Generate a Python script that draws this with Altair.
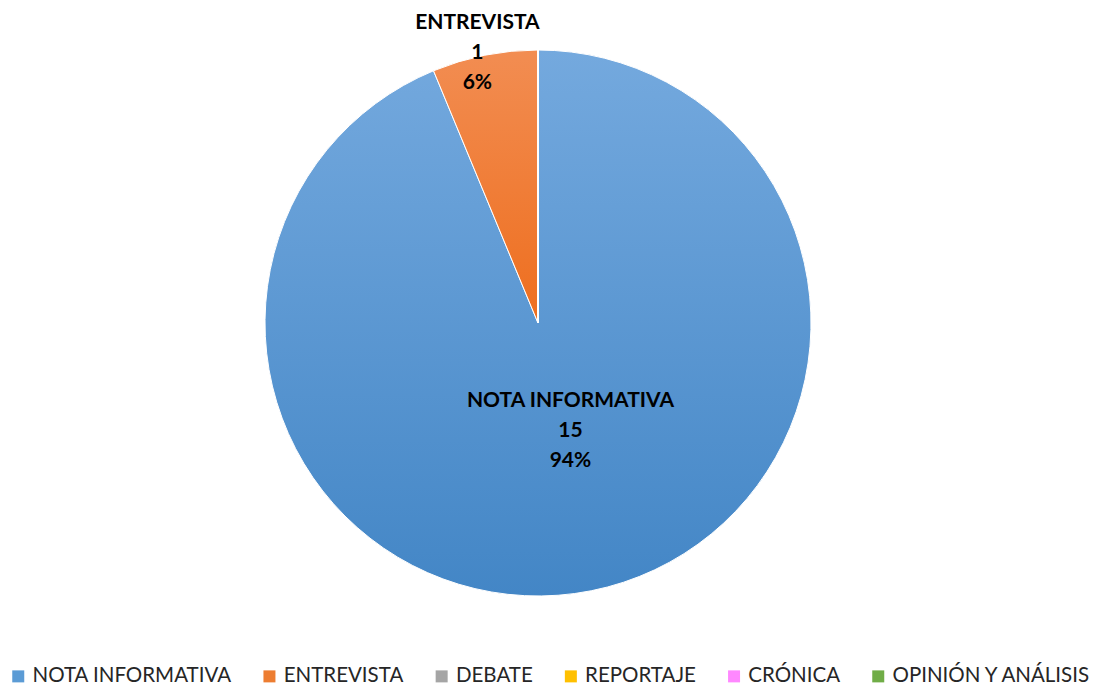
import altair as alt
import pandas as pd

categorias = ["NOTA INFORMATIVA", "ENTREVISTA", "DEBATE", "REPORTAJE", "CRÓNICA", "OPINIÓN Y ANÁLISIS"]
valores = [15, 1, 0, 0, 0, 0]
colores = ["#5B9BD5", "#ED7D31", "#A5A5A5", "#FFC000", "#FF88FF", "#70AD47"]

df = pd.DataFrame({"categoria": categorias, "valor": valores, "orden": list(range(len(categorias)))})

FONT = "Lato"
CX, CY, R = 530, 315, 273

grad_nota = alt.LinearGradient(gradient="linear", x1=0, y1=0, x2=0, y2=1,
    stops=[alt.GradientStop(offset=0, color="#74a9de"), alt.GradientStop(offset=1, color="#4386c6")])
grad_ent = alt.LinearGradient(gradient="linear", x1=0, y1=0, x2=0, y2=1,
    stops=[alt.GradientStop(offset=0, color="#f28d52"), alt.GradientStop(offset=1, color="#ee6e1e")])

base = alt.Chart(df).transform_joinaggregate(
    total="sum(valor)"
).transform_window(
    fin="sum(valor)", sort=[alt.SortField("orden", order="ascending")], frame=[None, 0]
).transform_calculate(
    a0="2 * PI * (datum.fin - datum.valor) / datum.total",
    a1="2 * PI * datum.fin / datum.total",
    amid="PI * (2 * datum.fin - datum.valor) / datum.total",
    etiqueta="[datum.categoria, '' + datum.valor, format(datum.valor / datum.total, '.0%')]",
).encode(
    x=alt.value(CX),
    y=alt.value(CY),
)

pie = base.mark_arc(outerRadius=R, stroke="white", strokeWidth=1).encode(
    theta=alt.Theta("a0:Q", scale=None),
    theta2="a1:Q",
    color=alt.Color(
        "categoria:N",
        sort=categorias,
        scale=alt.Scale(domain=categorias, range=colores),
        legend=alt.Legend(
            title=None, orient="none", direction="horizontal",
            legendX=0, legendY=658, symbolType="square", symbolSize=144,
            symbolStrokeWidth=0, labelFont=FONT, labelFontSize=20.5,
            labelColor="#262626", labelOffset=4, columnPadding=27.2,
            labelLimit=400, padding=0,
        ),
    ),
)

shade = base.mark_arc(outerRadius=R, stroke="white", strokeWidth=1).encode(
    theta=alt.Theta("a0:Q", scale=None),
    theta2="a1:Q",
    fill=alt.condition("datum.categoria == 'NOTA INFORMATIVA'", alt.value(grad_nota), alt.value(grad_ent)),
)

def etiqueta(cat, radio, dx, dy):
    return base.transform_filter(f"datum.categoria == '{cat}'").mark_text(
        font=FONT, fontSize=21, fontWeight="bold", color="black",
        lineHeight=30, align="center", baseline="middle", dx=dx, dy=dy, radius=radio,
    ).encode(
        theta=alt.Theta("amid:Q", scale=None),
        text="etiqueta:N",
    )

lab_nota = etiqueta(categorias[0], 110, 11, -30)
lab_ent = etiqueta(categorias[1], 280, -6, -25)

chart = alt.layer(pie, shade, lab_nota, lab_ent).properties(
    width=1083, height=677, autosize="none", padding=0
).configure_view(stroke=None)

chart.save("out.html", embed_options={"renderer": "svg", "actions": False})
